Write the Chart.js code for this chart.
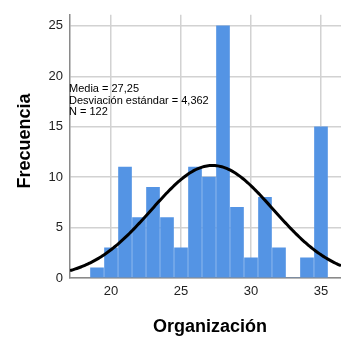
<!DOCTYPE html>
<html>
<head>
<meta charset="utf-8">
<script src="https://cdn.jsdelivr.net/npm/chart.js@4/dist/chart.umd.min.js"></script>
<style>
  html, body { margin: 0; padding: 0; background: #fff; }
  #wrap { width: 341px; height: 338px; position: relative; }
</style>
</head>
<body>
<div id="wrap"><canvas id="c" width="341" height="338"></canvas></div>
<script>
// Histogram of "Organización" scores (bin width 1, bins centred on integers)
const binCenters = [19, 20, 21, 22, 23, 24, 25, 26, 27, 28, 29, 30, 31, 32, 33, 34, 35];
const frequencies = [1, 3, 11, 6, 9, 6, 3, 11, 10, 25, 7, 2, 8, 3, 0, 2, 15];

// Summary statistics shown in the legend box
const mean = 27.25;
const stdDev = 4.362;
const count = 122;
const binWidth = 1;

const xTicks = [20, 25, 30, 35];
const yTicks = [0, 5, 10, 15, 20, 25];

const statLines = [
  'Media = 27,25',
  'Desviación estándar = 4,362',
  'N = 122'
];

const X_MIN = 17.07, X_MAX = 36.43;
const Y_MIN = 0, Y_MAX = 26.1;

// Fitted normal curve scaled to histogram counts
const curve = [];
const steps = 200;
for (let i = 0; i <= steps; i++) {
  const x = X_MIN + (X_MAX - X_MIN) * i / steps;
  const z = (x - mean) / stdDev;
  const y = count * binWidth / (stdDev * Math.sqrt(2 * Math.PI)) * Math.exp(-0.5 * z * z);
  curve.push({ x, y });
}

const bars = binCenters.map((c, i) => ({ x: c, y: frequencies[i] }));

const FONT = '"Liberation Sans", Arial, sans-serif';

const textPlugin = {
  id: 'textPlugin',
  afterDraw(chart) {
    const { ctx, chartArea } = chart;
    ctx.save();
    ctx.fillStyle = '#000';
    // statistics block
    ctx.font = '11px ' + FONT;
    ctx.textAlign = 'left';
    ctx.textBaseline = 'middle';
    statLines.forEach((t, i) => {
      ctx.fillText(t, chartArea.left - 1, 89 + i * 11.5);
    });
    // axis titles
    ctx.font = 'bold 18px ' + FONT;
    ctx.textAlign = 'center';
    ctx.fillText('Organización', 210, 327);
    ctx.translate(25, 141);
    ctx.rotate(-Math.PI / 2);
    ctx.fillText('Frecuencia', 0, 0);
    ctx.restore();
  }
};

new Chart(document.getElementById('c'), {
  type: 'bar',
  data: {
    datasets: [
      {
        type: 'line',
        data: curve,
        borderColor: '#000',
        borderWidth: 3,
        pointRadius: 0,
        tension: 0,
        order: 0
      },
      {
        type: 'bar',
        data: bars,
        backgroundColor: '#5494e4',
        barThickness: 13,
        borderWidth: 0,
        order: 1
      }
    ]
  },
  options: {
    responsive: false,
    animation: false,
    events: [],
    layout: { padding: { top: 13, right: 0, left: 0, bottom: 0 } },
    plugins: { legend: { display: false }, tooltip: { enabled: false } },
    scales: {
      x: {
        type: 'linear',
        offset: false,
        min: X_MIN,
        max: X_MAX,
        afterBuildTicks(axis) { axis.ticks = xTicks.map(v => ({ value: v })); },
        afterFit(axis) { axis.height = 60; },
        grid: { color: '#d2d2d2', lineWidth: 1.5, drawTicks: false, offset: false },
        border: { color: '#8a8a8a', width: 1.5 },
        ticks: { color: '#222', font: { family: FONT, size: 13 }, padding: 6, maxRotation: 0 }
      },
      y: {
        type: 'linear',
        min: Y_MIN,
        max: Y_MAX,
        afterBuildTicks(axis) { axis.ticks = yTicks.map(v => ({ value: v })); },
        afterFit(axis) { axis.width = 70; },
        grid: { color: '#d2d2d2', lineWidth: 1.5, drawTicks: false },
        border: { color: '#8a8a8a', width: 1.5 },
        ticks: { color: '#222', font: { family: FONT, size: 13 }, padding: 7 }
      }
    }
  },
  plugins: [textPlugin]
});
</script>
</body>
</html>
